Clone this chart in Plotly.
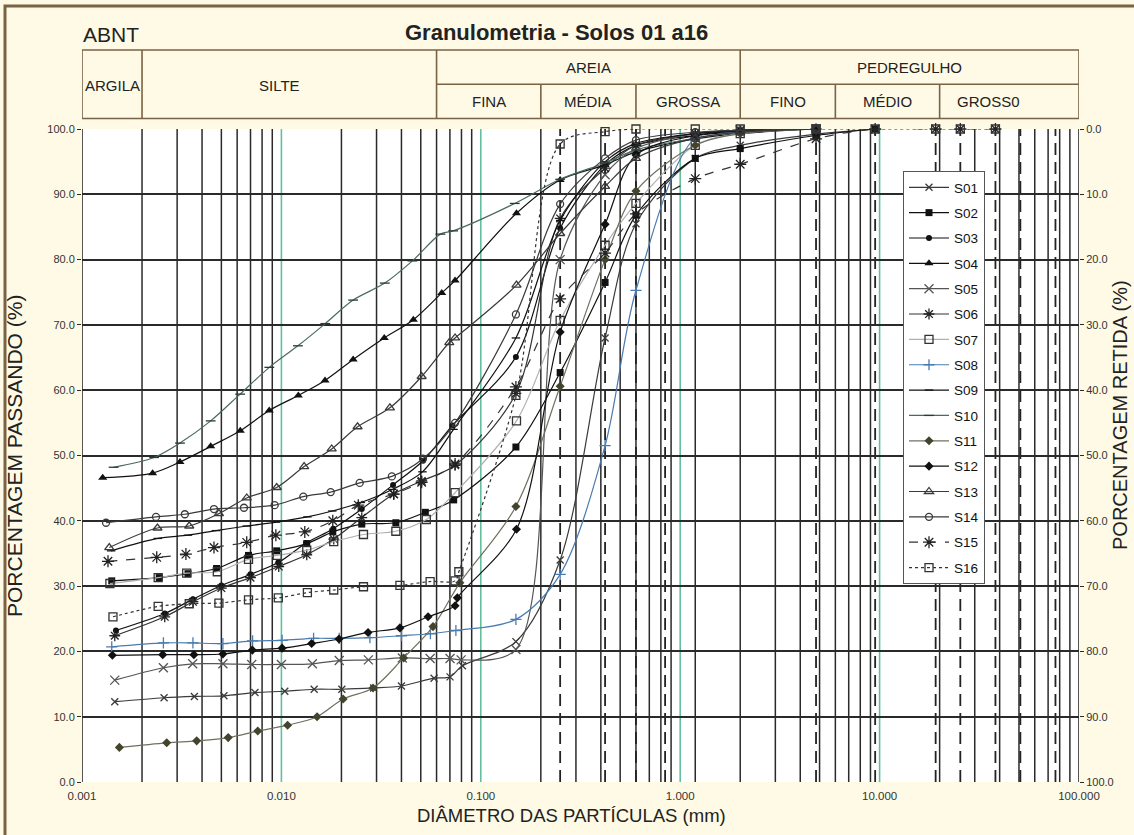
import math
import plotly.graph_objects as go

# ---------------- data: particle diameter (mm) / percent passing ----------------
S01_D = [0.00146, 0.00258, 0.00366, 0.00515, 0.00737, 0.0104, 0.0146, 0.0201, 0.029, 0.040, 0.0583, 0.0701, 0.0809, 0.15, 0.25, 0.42, 0.6, 1.19, 2.0, 4.8, 9.5]
S01_P = [12.3, 12.9, 13.1, 13.2, 13.7, 13.9, 14.2, 14.2, 14.4, 14.7, 15.9, 16.1, 17.8, 21.5, 34.0, 68.0, 85.5, 95.5, 97.5, 99.2, 100.0]

S02_D = [0.00141, 0.00244, 0.0034, 0.00473, 0.00684, 0.00947, 0.0134, 0.0181, 0.0253, 0.0375, 0.0527, 0.0731, 0.15, 0.25, 0.42, 0.6, 1.19, 2.0, 4.8, 9.5]
S02_P = [30.8, 31.3, 31.9, 32.7, 34.7, 35.4, 36.5, 38.3, 39.5, 39.7, 41.3, 43.2, 51.3, 62.7, 76.5, 86.8, 95.5, 97.0, 99.0, 100.0]

S03_D = [0.00148, 0.0026, 0.0036, 0.0050, 0.0070, 0.00965, 0.0133, 0.0182, 0.0253, 0.0363, 0.0513, 0.0721, 0.15, 0.25, 0.42, 0.6, 1.19, 2.0, 4.8]
S03_P = [23.2, 25.8, 28.0, 30.1, 31.8, 33.6, 36.6, 38.8, 41.8, 45.5, 49.2, 54.6, 65.1, 84.8, 94.5, 97.5, 99.0, 99.6, 100.0]

S04_D = [0.00127, 0.00226, 0.0031, 0.00442, 0.00622, 0.00869, 0.01216, 0.01655, 0.0229, 0.0328, 0.0459, 0.0637, 0.0743, 0.151, 0.25, 0.42, 0.6, 1.19, 2.0, 4.8]
S04_P = [46.6, 47.3, 49.0, 51.4, 53.8, 56.9, 59.2, 61.5, 64.7, 68.0, 70.8, 74.9, 76.8, 87.1, 92.2, 94.5, 96.5, 98.5, 99.3, 100.0]

S05_D = [0.00146, 0.00256, 0.00359, 0.00509, 0.0071, 0.0100, 0.0143, 0.0195, 0.0273, 0.0404, 0.0557, 0.0701, 0.0797, 0.15, 0.25, 0.42, 0.6, 1.19, 2.0, 4.8]
S05_P = [15.6, 17.5, 18.1, 18.1, 18.0, 18.0, 18.1, 18.6, 18.7, 19.0, 18.9, 18.9, 18.7, 20.3, 80.0, 93.0, 97.0, 99.3, 99.8, 100.0]

S06_D = [0.00146, 0.0026, 0.0036, 0.0050, 0.0070, 0.0097, 0.0134, 0.0183, 0.0253, 0.0366, 0.0505, 0.0743, 0.15, 0.25, 0.42, 0.6, 1.19, 2.0, 4.8]
S06_P = [22.4, 25.3, 27.6, 29.7, 31.3, 33.0, 34.8, 37.2, 40.5, 44.1, 46.1, 48.5, 59.5, 86.3, 94.0, 97.5, 99.3, 99.8, 100.0]

S07_D = [0.00138, 0.00241, 0.00335, 0.00477, 0.00684, 0.00953, 0.0134, 0.0183, 0.0258, 0.0375, 0.0533, 0.0743, 0.151, 0.25, 0.42, 0.6, 1.19, 2.0, 4.8]
S07_P = [30.4, 31.3, 32.0, 32.2, 34.1, 34.7, 35.5, 36.8, 37.9, 38.4, 40.2, 44.3, 55.3, 70.7, 82.2, 88.6, 97.5, 99.3, 100.0]

S08_D = [0.00141, 0.00256, 0.0036, 0.00509, 0.00717, 0.01008, 0.0145, 0.0195, 0.0278, 0.040, 0.0559, 0.075, 0.15, 0.25, 0.42, 0.6, 1.19, 2.0, 4.8]
S08_P = [20.7, 21.3, 21.3, 21.2, 21.6, 21.7, 22.0, 22.0, 22.1, 22.4, 22.7, 23.2, 24.9, 31.8, 51.5, 75.3, 98.6, 99.5, 100.0]

S09_D = [0.0014, 0.0024, 0.0034, 0.0047, 0.0067, 0.0094, 0.0135, 0.018, 0.025, 0.036, 0.051, 0.073, 0.15, 0.25, 0.42, 0.6, 1.19, 2.0, 4.8]
S09_P = [35.4, 37.3, 37.8, 38.5, 39.2, 39.8, 40.6, 41.5, 42.8, 44.8, 47.5, 54.0, 68.0, 86.0, 95.0, 97.8, 99.3, 99.8, 100.0]

S10_D = [0.00144, 0.0023, 0.0031, 0.00442, 0.00621, 0.0087, 0.0121, 0.0166, 0.0229, 0.033, 0.0454, 0.0627, 0.0727, 0.148, 0.25, 0.42, 0.6, 1.19, 2.0, 4.8]
S10_P = [48.2, 49.7, 51.9, 55.3, 59.4, 63.5, 66.8, 70.2, 73.8, 76.4, 79.8, 83.9, 84.4, 88.6, 92.3, 94.8, 96.8, 98.6, 99.5, 100.0]

S11_D = [0.00154, 0.00266, 0.00376, 0.00541, 0.00761, 0.01074, 0.0151, 0.0204, 0.0288, 0.041, 0.0576, 0.0785, 0.15, 0.25, 0.42, 0.6, 1.19, 2.0, 4.8]
S11_P = [5.3, 6.0, 6.3, 6.8, 7.8, 8.7, 10.0, 12.7, 14.4, 19.0, 23.8, 30.5, 42.2, 60.6, 80.0, 90.5, 97.5, 99.3, 100.0]

S12_D = [0.00142, 0.00254, 0.00364, 0.00509, 0.00715, 0.01008, 0.01418, 0.01945, 0.0272, 0.0393, 0.0544, 0.0743, 0.0763, 0.151, 0.25, 0.42, 0.6, 1.19, 2.0, 4.8]
S12_P = [19.4, 19.5, 19.5, 19.6, 20.2, 20.5, 21.2, 21.9, 22.9, 23.6, 25.3, 27.0, 28.2, 38.7, 68.9, 85.4, 96.0, 99.0, 99.7, 100.0]

S13_D = [0.00137, 0.00239, 0.00345, 0.00486, 0.0067, 0.00947, 0.0130, 0.01787, 0.0241, 0.035, 0.0505, 0.0695, 0.0743, 0.151, 0.25, 0.42, 0.6, 1.19, 2.0, 4.8]
S13_P = [35.9, 38.9, 39.2, 41.1, 43.5, 45.1, 48.3, 51.0, 54.4, 57.3, 62.1, 67.3, 68.0, 76.1, 84.0, 91.2, 95.5, 98.6, 99.5, 100.0]

S14_D = [0.00132, 0.00235, 0.00328, 0.00459, 0.00649, 0.00925, 0.01288, 0.01767, 0.0247, 0.0358, 0.0513, 0.0743, 0.15, 0.25, 0.42, 0.6, 1.19, 2.0, 4.8]
S14_P = [39.7, 40.6, 41.0, 41.8, 42.0, 42.4, 43.7, 44.4, 45.8, 46.8, 49.5, 55.0, 71.6, 88.5, 95.5, 98.3, 99.5, 99.8, 100.0]

S15_D = [0.00135, 0.00237, 0.00332, 0.00459, 0.0067, 0.00938, 0.0131, 0.0181, 0.0243, 0.0366, 0.0505, 0.0743, 0.15, 0.25, 0.42, 0.6, 1.19, 2.0, 4.8, 9.5, 19.1, 25.4, 38.1]
S15_P = [33.8, 34.4, 34.9, 35.9, 36.7, 37.8, 38.3, 40.0, 42.4, 44.1, 45.9, 48.7, 60.5, 74.0, 81.0, 87.0, 92.4, 94.6, 98.5, 100.0, 100.0, 100.0, 100.0]

S16_D = [0.00143, 0.00241, 0.00345, 0.00486, 0.00684, 0.00965, 0.0135, 0.0183, 0.0258, 0.0393, 0.0557, 0.0743, 0.0776, 0.15, 0.25, 0.42, 0.6, 1.19, 2.0, 4.8, 9.5, 19.1, 25.4, 38.1]
S16_P = [25.3, 26.9, 27.3, 27.4, 27.9, 28.2, 29.0, 29.4, 29.9, 30.1, 30.7, 30.8, 32.2, 59.2, 97.7, 99.6, 100.0, 100.0, 100.0, 100.0, 100.0, 100.0, 100.0, 100.0]

SOIL_NAMES = ["S01", "S02", "S03", "S04", "S05", "S06", "S07", "S08",
              "S09", "S10", "S11", "S12", "S13", "S14", "S15", "S16"]

X_TICK_VALS = [0.001, 0.01, 0.1, 1, 10, 100]
X_TICK_TEXT = ["0.001", "0.010", "0.100", "1.000", "10.000", "100.000"]
Y_TICK_VALS = [0, 10, 20, 30, 40, 50, 60, 70, 80, 90, 100]
PASSING_TICK_TEXT = ["0.0", "10.0", "20.0", "30.0", "40.0", "50.0", "60.0", "70.0", "80.0", "90.0", "100.0"]
RETAINED_TICK_TEXT = ["100.0", "90.0", "80.0", "70.0", "60.0", "50.0", "40.0", "30.0", "20.0", "10.0", "0.0"]

# sieve openings (mm) drawn as reference lines
SIEVE_DASHED = [0.25, 0.42, 0.6, 0.84, 4.8, 9.5, 19.1, 25.4, 38.1, 50.8, 76.2]
SIEVE_SOLID = [1.19]

# ABNT size classes (mm limits) for the header table
CLASS_TOP = [("ARGILA", 0.001, 0.002), ("SILTE", 0.002, 0.06),
             ("AREIA", 0.06, 2.0), ("PEDREGULHO", 2.0, 100.0)]
CLASS_SUB = [("FINA", 0.06, 0.2), ("MÉDIA", 0.2, 0.6), ("GROSSA", 0.6, 2.0),
             ("FINO", 2.0, 6.0), ("MÉDIO", 6.0, 20.0), ("GROSS0", 20.0, 100.0)]
# label centres (mm) where the text is not centred in its cell
LABEL_CENTRE = {"SILTE": 0.0098, "GROSS0": 35.0}

# ---------------- geometry helpers (pixel -> paper) ----------------
W, H = 1134, 835
PL, PR, PT, PB = 82, 1079, 129, 782


def fx(px):
    return (px - PL) / (PR - PL)


def fy(py):
    return (PB - py) / (PB - PT)


def label_pos(label, a, b):
    return math.log10(LABEL_CENTRE.get(label, (a * b) ** 0.5))


FONT = "Liberation Sans, Arial, sans-serif"
INK = "#2a2a2a"
FRAME = "#7a6244"
TXT = "#222222"

series_data = [
    (S01_D, S01_P), (S02_D, S02_P), (S03_D, S03_P), (S04_D, S04_P),
    (S05_D, S05_P), (S06_D, S06_P), (S07_D, S07_P), (S08_D, S08_P),
    (S09_D, S09_P), (S10_D, S10_P), (S11_D, S11_P), (S12_D, S12_P),
    (S13_D, S13_P), (S14_D, S14_P), (S15_D, S15_P), (S16_D, S16_P),
]

# line colour, dash, marker symbol, marker colour, marker size
styles = [
    ("#3a3a3a", "solid", "x-thin", "#3a3a3a", 7),
    ("#111111", "solid", "square", "#111111", 7),
    ("#111111", "solid", "circle", "#111111", 6),
    ("#111111", "solid", "triangle-up", "#111111", 8),
    ("#555555", "solid", "x-thin", "#555555", 9),
    ("#333333", "solid", "asterisk", "#222222", 9),
    ("#b0b0b0", "solid", "square-open", "#333333", 8),
    ("#4a7bb0", "solid", "cross-thin", "#4a7bb0", 8),
    ("#111111", "solid", "line-ew", "#111111", 6),
    ("#4a6a60", "solid", "line-ew", "#2a3a34", 7),
    ("#707060", "solid", "diamond", "#44442e", 7),
    ("#111111", "solid", "diamond", "#111111", 7),
    ("#3a3a3a", "solid", "triangle-up-open", "#3a3a3a", 8),
    ("#3a3a3a", "solid", "circle-open", "#3a3a3a", 7),
    ("#333333", "dash", "asterisk-open", "#222222", 10),
    ("#333333", "dot", "square-open", "#333333", 8),
]

fig = go.Figure()

for name, (d, p), (lc, dash, sym, mc, ms) in zip(SOIL_NAMES, series_data, styles):
    thin = sym in ("x-thin", "cross-thin", "asterisk", "asterisk-open", "line-ew")
    marker = dict(symbol=sym, size=ms, color=mc,
                  line=dict(width=1.3 if (thin or sym.endswith("open")) else 0, color=mc))
    fig.add_trace(go.Scatter(
        x=d, y=p, name=name, mode="lines+markers",
        line=dict(color=lc, width=1.2, dash=dash, shape="spline", smoothing=0.9),
        marker=marker, cliponaxis=False, legendgroup=name,
    ))

# invisible trace that carries the right-hand (retained) axis
fig.add_trace(go.Scatter(x=[0.001], y=[0], yaxis="y2", mode="markers",
                         marker=dict(opacity=0), showlegend=False, hoverinfo="skip"))

shapes = []
# vertical log grid
for e in range(-3, 2):
    for k in range(2, 10):
        shapes.append(dict(type="line", xref="x", yref="paper", x0=k * 10 ** e, x1=k * 10 ** e,
                           y0=0, y1=1, line=dict(color=INK, width=1.5), layer="below"))
for v in [0.01, 0.1, 1, 10]:
    shapes.append(dict(type="line", xref="x", yref="paper", x0=v, x1=v, y0=0, y1=1,
                       line=dict(color="#62c09c", width=1.6), layer="below"))
for v in [0.001, 100]:
    shapes.append(dict(type="line", xref="x", yref="paper", x0=v, x1=v, y0=0, y1=1,
                       line=dict(color=INK, width=1.6), layer="below"))
for v in SIEVE_SOLID:
    shapes.append(dict(type="line", xref="x", yref="paper", x0=v, x1=v, y0=0, y1=1,
                       line=dict(color=INK, width=1.5), layer="below"))
for v in SIEVE_DASHED:
    shapes.append(dict(type="line", xref="x", yref="paper", x0=v, x1=v, y0=0, y1=1,
                       line=dict(color="#222222", width=1.8, dash="12px,7px"), layer="below"))

# page frame
shapes.append(dict(type="rect", xref="paper", yref="paper", x0=fx(5), x1=fx(1145),
                   y0=fy(850), y1=fy(6), line=dict(color=FRAME, width=3), layer="below"))

# classification header table, aligned with the diameter axis
TOP_Y, MID_Y, BOT_Y = fy(50), fy(84.3), fy(118.5)
hl = dict(color=FRAME, width=1.6)
shapes.append(dict(type="rect", xref="x", yref="paper", x0=0.001, x1=100,
                   y0=BOT_Y, y1=TOP_Y, line=hl))
for _, a, b in CLASS_TOP[1:]:
    shapes.append(dict(type="line", xref="x", yref="paper", x0=a, x1=a,
                       y0=BOT_Y, y1=TOP_Y, line=hl))
shapes.append(dict(type="line", xref="x", yref="paper", x0=0.06, x1=100,
                   y0=MID_Y, y1=MID_Y, line=hl))
for _, a, b in CLASS_SUB[1:]:
    if a != 2.0:
        shapes.append(dict(type="line", xref="x", yref="paper", x0=a, x1=a,
                           y0=BOT_Y, y1=MID_Y, line=hl))

annotations = []
for label, a, b in CLASS_TOP:
    cy = fy(85) if label in ("ARGILA", "SILTE") else fy(67.5)
    annotations.append(dict(text=label, xref="x", yref="paper", x=label_pos(label, a, b),
                            y=cy, xanchor="center", yanchor="middle",
                            showarrow=False, font=dict(family=FONT, size=15, color=TXT)))
for label, a, b in CLASS_SUB:
    annotations.append(dict(text=label, xref="x", yref="paper", x=label_pos(label, a, b),
                            y=fy(101.5), xanchor="center", yanchor="middle",
                            showarrow=False, font=dict(family=FONT, size=15, color=TXT)))

annotations += [
    dict(text="ABNT", xref="paper", yref="paper", x=fx(81), y=fy(35),
         xanchor="left", yanchor="middle",
         showarrow=False, font=dict(family=FONT, size=21, color=TXT)),
    dict(text="<b>Granulometria - Solos 01 a16</b>", xref="paper", yref="paper",
         x=fx(556), y=fy(32), xanchor="center", yanchor="middle",
         showarrow=False, font=dict(family=FONT, size=22, color=TXT)),
    dict(text="DIÂMETRO DAS PARTÍCULAS (mm)", xref="paper", yref="paper",
         x=fx(571), y=fy(815), xanchor="center", yanchor="middle",
         showarrow=False, font=dict(family=FONT, size=18.5, color=TXT)),
    dict(text="PORCENTAGEM PASSANDO (%)", xref="paper", yref="paper",
         x=fx(15), y=fy(456), xanchor="center", yanchor="middle",
         textangle=-90, showarrow=False, font=dict(family=FONT, size=21, color=TXT)),
    dict(text="PORCENTAGEM RETIDA (%)", xref="paper", yref="paper",
         x=fx(1120), y=fy(415), xanchor="center", yanchor="middle",
         textangle=-90, showarrow=False, font=dict(family=FONT, size=20, color=TXT)),
]

fig.update_layout(
    width=W, height=H,
    margin=dict(l=PL, r=W - PR, t=PT, b=H - PB),
    paper_bgcolor="#fefae6", plot_bgcolor="#ffffff",
    font=dict(family=FONT, color="#333"),
    xaxis=dict(type="log", range=[-3, 2], tickvals=X_TICK_VALS, ticktext=X_TICK_TEXT,
               showgrid=False, zeroline=False, showline=False, ticks="",
               ticklabelstandoff=5, tickfont=dict(size=11.5, color="#333")),
    yaxis=dict(range=[0, 100], tickvals=Y_TICK_VALS, ticktext=PASSING_TICK_TEXT,
               showgrid=True, gridcolor=INK, gridwidth=1.5, zeroline=False,
               ticks="outside", ticklen=4, tickcolor=INK, tickfont=dict(size=11, color="#333")),
    yaxis2=dict(range=[0, 100], overlaying="y", side="right", tickvals=Y_TICK_VALS,
                ticktext=RETAINED_TICK_TEXT, showgrid=False, zeroline=False,
                ticks="outside", ticklen=4, tickcolor=INK, tickfont=dict(size=11, color="#333")),
    legend=dict(x=fx(903), y=fy(171), xanchor="left", yanchor="top",
                bgcolor="#ffffff", bordercolor="#555", borderwidth=1,
                font=dict(family=FONT, size=13.5, color="#111"),
                traceorder="grouped", tracegroupgap=4.8, itemwidth=40),
    shapes=shapes, annotations=annotations,
    showlegend=True,
)

fig.write_html("out.html")
